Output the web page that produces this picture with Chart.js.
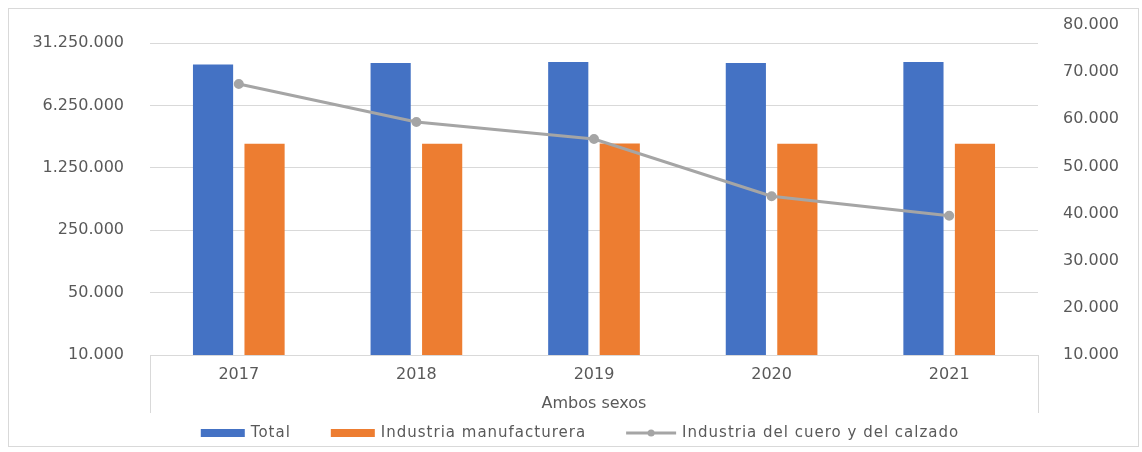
<!DOCTYPE html>
<html>
<head>
<meta charset="utf-8">
<script src="https://cdn.jsdelivr.net/npm/chart.js@4"></script>
<style>
  html, body { margin: 0; padding: 0; background: #fff; }
  #wrap { position: relative; width: 1142px; height: 452px; }
  #frame { position: absolute; left: 8px; top: 8px; width: 1131px; height: 439px; box-sizing: border-box; border: 1px solid #d9d9d9; pointer-events: none; }
</style>
</head>
<body>
<div id="wrap">
  <canvas id="chartEmpleo" width="1142" height="452"></canvas>
  <div id="frame"></div>
</div>
<script>
const years = ['2017', '2018', '2019', '2020', '2021'];
const total = [18050000, 18800000, 19300000, 18800000, 19300000];
const manufactura = [2340000, 2340000, 2350000, 2340000, 2340000];
const cueroCalzado = [67490, 59430, 55820, 43670, 39550];
const ticksIzq = [10000, 50000, 250000, 1250000, 6250000, 31250000];

const fmt = v => String(Math.round(v)).replace(/\B(?=(\d{3})+(?!\d))/g, '.');

Chart.defaults.font.family = '"DejaVu Sans", sans-serif';
Chart.defaults.font.size = 16;
Chart.defaults.color = '#595959';

// lineas verticales en los extremos del eje de categorias
const marcoEjes = {
  id: 'marcoEjes',
  afterDraw(chart) {
    const {ctx, chartArea: {left, right, bottom}, scales: {x}} = chart;
    ctx.save();
    ctx.strokeStyle = '#d9d9d9';
    ctx.lineWidth = 1;
    ctx.beginPath();
    [left, right].forEach(px => {
      ctx.moveTo(Math.round(px) + 0.5, bottom);
      ctx.lineTo(Math.round(px) + 0.5, x.bottom - 2);
    });
    ctx.stroke();
    ctx.restore();
  }
};

// leyenda dibujada a mano (marcador de barra / linea con punto)
const leyenda = {
  id: 'leyenda',
  afterDraw(chart) {
    const ctx = chart.ctx;
    const y = chart.scales.x.bottom + 18;
    ctx.save();
    ctx.font = '15px "DejaVu Sans", sans-serif';
    ctx.letterSpacing = '1px';
    ctx.textBaseline = 'middle';
    ctx.fillStyle = '#595959';
    const items = chart.data.datasets.map(ds => {
      const esLinea = ds.type === 'line';
      const mw = esLinea ? 50 : 44;
      return {ds, esLinea, mw, tw: ctx.measureText(ds.label).width};
    });
    const gap = 6, sep = 40;
    const ancho = items.reduce((s, it) => s + it.mw + gap + it.tw, 0) + sep * (items.length - 1);
    let x = chart.width / 2 + 9 - ancho / 2;
    items.forEach(it => {
      if (it.esLinea) {
        ctx.strokeStyle = it.ds.borderColor;
        ctx.lineWidth = 3;
        ctx.beginPath();
        ctx.moveTo(x, y);
        ctx.lineTo(x + it.mw, y);
        ctx.stroke();
        ctx.fillStyle = it.ds.backgroundColor;
        ctx.beginPath();
        ctx.arc(x + it.mw / 2, y, 3.5, 0, Math.PI * 2);
        ctx.fill();
      } else {
        ctx.fillStyle = it.ds.backgroundColor;
        ctx.fillRect(x, y - 4, it.mw, 8);
      }
      x += it.mw + gap;
      ctx.fillStyle = '#595959';
      ctx.fillText(it.ds.label, x, y);
      x += it.tw + sep;
    });
    ctx.restore();
  }
};

const ctxEmpleo = document.getElementById('chartEmpleo');

new Chart(ctxEmpleo, {
  type: 'bar',
  data: {
    labels: years,
    datasets: [
      {
        label: 'Total',
        data: total,
        backgroundColor: '#4472C4',
        yAxisID: 'y',
        order: 1,
        categoryPercentage: 0.58,
        barPercentage: 0.78
      },
      {
        label: 'Industria manufacturera',
        data: manufactura,
        backgroundColor: '#ED7D31',
        yAxisID: 'y',
        order: 1,
        categoryPercentage: 0.58,
        barPercentage: 0.78
      },
      {
        type: 'line',
        label: 'Industria del cuero y del calzado',
        data: cueroCalzado,
        borderColor: '#A5A5A5',
        backgroundColor: '#A5A5A5',
        borderWidth: 3,
        pointRadius: 3.5,
        pointHoverRadius: 5,
        tension: 0,
        yAxisID: 'y1',
        order: 0
      }
    ]
  },
  options: {
    responsive: false,
    animation: false,
    layout: { padding: { top: 25, bottom: 37, left: 0, right: 0 } },
    plugins: {
      legend: { display: false },
      tooltip: { mode: 'index', intersect: false }
    },
    scales: {
      x: {
        grid: { display: false, drawTicks: false },
        border: { color: '#d9d9d9' },
        ticks: { padding: 10 },
        title: { display: true, text: 'Ambos sexos', padding: { top: 0, bottom: 2 } },
        afterFit: s => { s.height = 60; }
      },
      y: {
        type: 'logarithmic',
        position: 'left',
        min: 10000,
        max: 50000000,
        afterBuildTicks: s => { s.ticks = ticksIzq.map(v => ({ value: v })); },
        ticks: { padding: 0, callback: v => fmt(v) },
        grid: { color: '#d9d9d9', drawTicks: true, tickLength: 26, tickColor: 'rgba(0,0,0,0)' },
        border: { display: false },
        afterFit: s => { s.width = 150; }
      },
      y1: {
        position: 'right',
        min: 10000,
        max: 80000,
        ticks: { stepSize: 10000, padding: 0, callback: v => fmt(v) },
        grid: { drawOnChartArea: false, drawTicks: true, tickLength: 25, tickColor: 'rgba(0,0,0,0)' },
        border: { display: false },
        afterFit: s => { s.width = 104; }
      }
    }
  },
  plugins: [marcoEjes, leyenda]
});
</script>
</body>
</html>
